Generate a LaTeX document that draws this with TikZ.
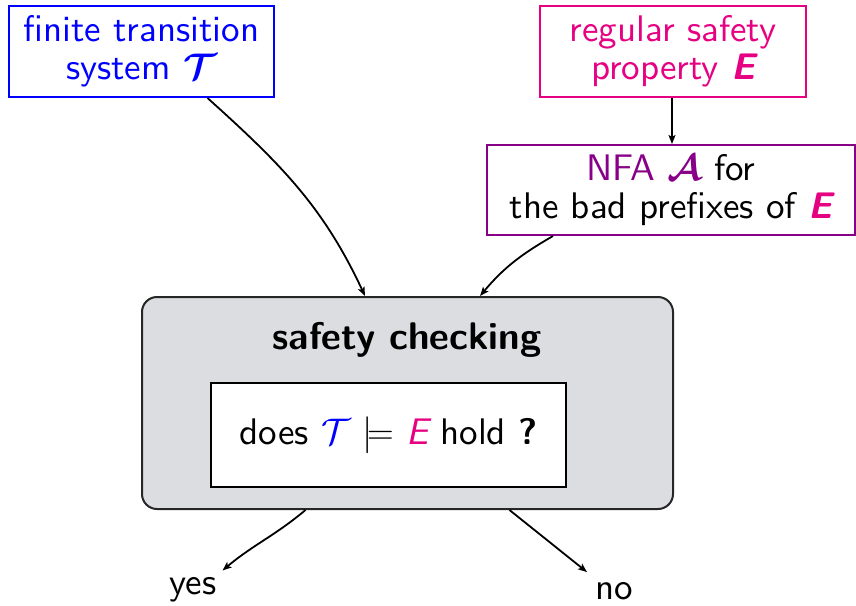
\RequirePackage{fix-cm}
\documentclass[tikz,border=0pt]{standalone}
\usepackage{amsmath}
\usepackage{fontspec}
\usetikzlibrary{arrows.meta}
\newfontfamily\mysans{lmsans10-regular.otf}[BoldFont=lmsans10-bold.otf, ItalicFont=lmsans10-oblique.otf, BoldItalicFont=lmsans10-boldoblique.otf]
\definecolor{cblue}{RGB}{0,0,255}
\definecolor{cmag}{RGB}{230,0,130}
\definecolor{cpurp}{RGB}{135,0,135}
\definecolor{cgray}{RGB}{220,221,224}
\newcommand{\Tsym}{\textcolor{cblue}{$\boldsymbol{\mathcal{T}}$}}
\newcommand{\Esym}{\textcolor{cmag}{\bfseries\itshape E}}
\newcommand{\Asym}{\textcolor{cpurp}{$\boldsymbol{\mathcal{A}}$}}
\begin{document}
\begin{tikzpicture}[x=1pt,y=-1pt,
  every node/.style={font=\mysans\fontsize{37}{38}\selectfont},
  box/.style={draw, line width=2pt, align=center, inner sep=0pt},
  conn/.style={line width=1.8pt, -{Stealth[length=9pt,width=7pt,inset=2pt]}},
  lbl/.style={inner sep=2pt}]
\useasboundingbox (0,0) rectangle (856,605);
\node[box, cblue, minimum width=265pt, minimum height=91pt] (ts) at (141.5,51.5)
  {finite transition\\system \Tsym};
\node[box, cmag, minimum width=266pt, minimum height=91pt] (sp) at (673,51.5)
  {regular safety\\property \Esym};
\node[box, cpurp, minimum width=368pt, minimum height=90pt] (nfa) at (671,190)
  {\textcolor{cpurp}{NFA} \Asym{} \textcolor{black}{for}\\\textcolor{black}{the bad prefixes of} \Esym};
\node[draw=black!85, line width=2pt, fill=cgray, rounded corners=15pt,
  minimum width=531pt, minimum height=212pt] (sc) at (407.5,403) {};
\node[font=\mysans\bfseries\fontsize{38.5}{40}\selectfont] (title) at (407,340) {safety checking};
\node[draw=black, fill=white, line width=2pt, minimum width=355pt, minimum height=104pt] (q) at (388.5,435)
  {does \textcolor{cblue}{$\mathcal{T}$} $\models$ \textcolor{cmag}{\itshape E} hold \textbf{?}};
\node[lbl] (yes) at (193,590) {yes};
\node[lbl] (no) at (614,591) {no};
\draw[conn] ([xshift=66pt]ts.south) to[out=-42,in=115] ([xshift=-42.5pt]sc.north);
\draw[conn] ([xshift=-1pt]sp.south) -- ([xshift=1pt]nfa.north);
\draw[conn] ([xshift=-118pt]nfa.south) to[out=-150,in=50] ([xshift=72.5pt]sc.north);
\draw[conn] ([xshift=-102pt]sc.south) to[out=-140,in=40] ([xshift=4pt,yshift=5pt]yes.north east);
\draw[conn] ([xshift=102pt]sc.south) -- ([xshift=-6pt,yshift=8pt]no.north west);
\end{tikzpicture}
\end{document}
